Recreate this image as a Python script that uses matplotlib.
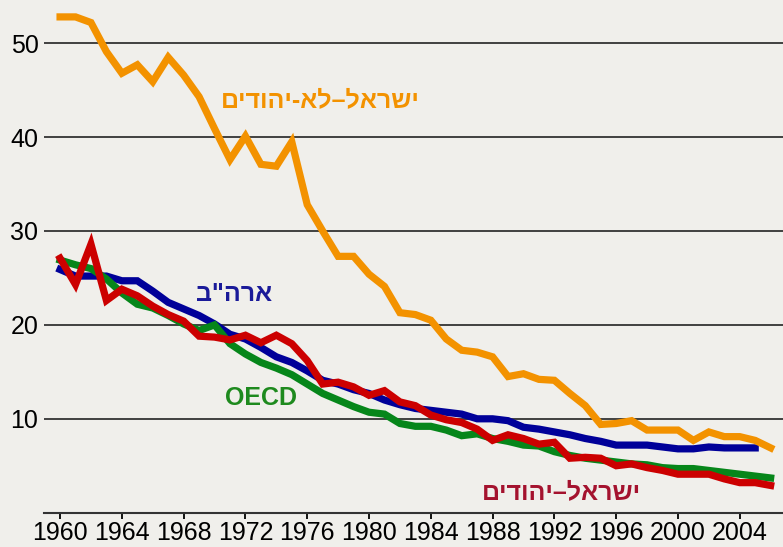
import numpy as np
import matplotlib.pyplot as plt

# data (rate per 1000, 1960-2006)
years = np.arange(1960, 2007)

israel_non_jews = [52.8, 52.8, 52.2, 49.1, 46.8, 47.7, 45.9, 48.5, 46.6, 44.3,
                   40.9, 37.6, 40.1, 37.1, 36.9, 39.5, 32.8, 30.0, 27.3, 27.3,
                   25.4, 24.1, 21.3, 21.1, 20.5, 18.5, 17.3, 17.1, 16.6, 14.5,
                   14.8, 14.2, 14.1, 12.7, 11.4, 9.4, 9.5, 9.8, 8.8, 8.8,
                   8.8, 7.7, 8.6, 8.1, 8.1, 7.7, 6.9]

usa = [25.9, 25.2, 25.2, 25.2, 24.7, 24.7, 23.6, 22.4, 21.7, 21.0,
       20.1, 19.0, 18.5, 17.6, 16.6, 16.0, 15.1, 14.1, 13.7, 13.1,
       12.7, 12.0, 11.5, 11.1, 10.9, 10.7, 10.5, 10.0, 10.0, 9.8,
       9.1, 8.9, 8.6, 8.3, 7.9, 7.6, 7.2, 7.2, 7.2, 7.0,
       6.8, 6.8, 7.0, 6.9, 6.9, 6.9]

oecd = [26.9, 26.4, 26.0, 24.9, 23.4, 22.2, 21.8, 21.0, 20.1, 19.4,
        20.0, 18.0, 16.9, 16.0, 15.4, 14.7, 13.7, 12.7, 12.0, 11.3,
        10.7, 10.5, 9.5, 9.2, 9.2, 8.8, 8.2, 8.4, 7.9, 7.6,
        7.2, 7.1, 6.5, 6.1, 5.8, 5.6, 5.4, 5.2, 5.1, 4.8,
        4.7, 4.7, 4.5, 4.3, 4.1, 3.9, 3.7]

israel_jews = [27.1, 24.3, 28.6, 22.6, 23.8, 23.1, 22.0, 21.1, 20.4, 18.8,
               18.7, 18.4, 18.9, 18.1, 18.9, 18.0, 16.2, 13.7, 13.9, 13.4,
               12.5, 13.0, 11.8, 11.4, 10.4, 9.9, 9.6, 8.9, 7.7, 8.3,
               7.9, 7.3, 7.5, 5.8, 5.9, 5.8, 5.0, 5.2, 4.8, 4.5,
               4.1, 4.1, 4.1, 3.6, 3.2, 3.2, 2.9]

lbl_non_jews = "ישראל–לא-יהודים"
lbl_usa = 'ארה"ב'
lbl_oecd = "OECD"
lbl_jews = "ישראל–יהודים"

bg = '#f0efeb'
c_orange = '#f39200'
c_blue = '#000099'
c_green = '#06861a'
c_red = '#cc0000'

plt.rcParams['font.family'] = ['Liberation Sans Narrow', 'Liberation Sans', 'DejaVu Sans']

fig = plt.figure(figsize=(7.83, 5.47), dpi=100, facecolor=bg)
ax = fig.add_axes([0.0562, 0.0627, 0.9438, 0.9373])
ax.set_facecolor(bg)

lw = 5.2
ax.plot(years[:len(usa)], usa, color=c_blue, lw=lw, solid_joinstyle='miter', zorder=3)
ax.plot(years, oecd, color=c_green, lw=lw, solid_joinstyle='miter', zorder=4)
ax.plot(years, israel_jews, color=c_red, lw=lw, solid_joinstyle='miter', zorder=5)
ax.plot(years, israel_non_jews, color=c_orange, lw=lw, solid_joinstyle='miter', zorder=6)

ax.set_xlim(1958.96, 2006.8)
ax.set_ylim(0, 54.6)

ax.set_yticks([10, 20, 30, 40, 50])
ax.set_xticks(np.arange(1960, 2005, 4))
ax.tick_params(axis='y', length=0, labelsize=18, pad=4)
ax.tick_params(axis='x', length=4, width=1.3, labelsize=18, pad=2, direction='out')
ax.grid(axis='y', color='#333333', lw=1.3, zorder=1)

for s in ['top', 'right', 'left']:
    ax.spines[s].set_visible(False)
ax.spines['bottom'].set_color('#333333')
ax.spines['bottom'].set_linewidth(1.5)

# hebrew is written right to left, matplotlib draws left to right
def rtl(s):
    return s[::-1]

lab = dict(fontsize=18, fontweight='bold', va='center',
           family=['Liberation Sans', 'DejaVu Sans'])
ax.text(1983.3, 43.9, rtl(lbl_non_jews), color=c_orange, ha='right', **lab)
ax.text(1973.7, 23.3, rtl(lbl_usa), color='#1a1a99', ha='right', **lab)
ax.text(1970.7, 12.2, lbl_oecd, color='#1e8a1e', ha='left', **lab)
ax.text(1997.6, 2.2, rtl(lbl_jews), color='#a4122e', ha='right', **lab)

fig.savefig('out.png', dpi=100, facecolor=bg)
